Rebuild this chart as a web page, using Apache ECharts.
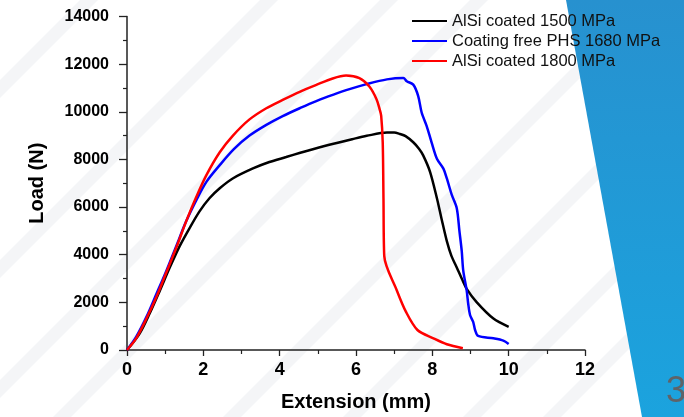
<!DOCTYPE html>
<html>
<head>
<meta charset="utf-8">
<script src="https://cdn.jsdelivr.net/npm/echarts@6/dist/echarts.min.js"></script>
<style>
html,body{margin:0;padding:0;background:#fff;}
#c{width:684px;height:417px;}
</style>
</head>
<body>
<div id="c"></div>
<script>
// ---- data ----
var seriesNames = ['AlSi coated 1500 MPa', 'Coating free PHS 1680 MPa', 'AlSi coated 1800 MPa'];
var seriesColors = ['#000000', '#0000ff', '#ff0000'];

var x1500 = [0, 0.33, 0.59, 0.86, 1.12, 1.38, 1.64, 1.90, 2.16, 2.43, 2.77, 3.30, 3.73, 4.17, 4.54, 4.87, 5.41, 5.9, 6.28, 6.81, 7.0, 7.15, 7.3, 7.5, 7.65, 7.76, 7.94, 8.12, 8.25, 8.38, 8.5, 8.64, 8.77, 8.9, 9.16, 9.6, 10.0];
var y1500 = [0, 690, 1520, 2490, 3460, 4360, 5120, 5820, 6370, 6790, 7200, 7620, 7890, 8100, 8280, 8430, 8660, 8850, 8990, 9130, 9130, 9070, 8980, 8720, 8450, 8170, 7480, 6370, 5450, 4570, 3950, 3465, 3000, 2565, 2010, 1320, 975];

var x1680 = [0, 0.24, 0.51, 0.77, 1.03, 1.29, 1.55, 1.82, 2.08, 2.43, 2.8, 3.21, 3.65, 4.08, 4.54, 4.96, 5.41, 5.83, 6.28, 6.81, 7.24, 7.33, 7.5, 7.63, 7.72, 7.85, 7.98, 8.12, 8.29, 8.38, 8.51, 8.64, 8.71, 8.77, 8.81, 8.9, 8.94, 8.99, 9.07, 9.12, 9.2, 9.6, 9.86, 10.0];
var y1680 = [0, 550, 1390, 2350, 3320, 4360, 5400, 6300, 7060, 7760, 8430, 9000, 9450, 9820, 10160, 10450, 10720, 10950, 11160, 11360, 11420, 11280, 11140, 10660, 9970, 9410, 8720, 8030, 7615, 7200, 6510, 5955, 4990, 4160, 3330, 2500, 1940, 1460, 1180, 840, 590, 490, 395, 255];

var x1800 = [0, 0.24, 0.51, 0.77, 1.03, 1.29, 1.55, 1.82, 2.08, 2.43, 2.77, 3.21, 3.65, 4.08, 4.54, 4.96, 5.39, 5.74, 6.09, 6.35, 6.54, 6.62, 6.66, 6.70, 6.72, 6.74, 7.07, 7.31, 7.61, 8.03, 8.38, 8.8];
var y1800 = [0, 485, 1320, 2220, 3250, 4290, 5400, 6440, 7340, 8300, 8990, 9680, 10150, 10500, 10850, 11130, 11400, 11520, 11410, 11060, 10520, 10100, 9830, 8720, 6370, 3950, 2500, 1600, 840, 490, 240, 75];

var xTicks = [0, 2, 4, 6, 8, 10, 12];
var yTicks = [0, 2000, 4000, 6000, 8000, 10000, 12000, 14000];

function pairs(xs, ys) { return xs.map(function (x, i) { return [x, ys[i]]; }); }

// decorative slide background
var stripeCs = [80, 260, 380, 470, 640, 760, 880, 960];
var graphics = stripeCs.map(function (c) {
  var w = 18;
  return { type: 'polygon', z: -3, silent: true,
    shape: { points: [[c, 0], [c + w, 0], [0, c + w], [0, c]] },
    style: { fill: '#f4f5f7' } };
});
graphics.push({ type: 'polygon', z: -2, silent: true,
  shape: { points: [[566, 0], [684, 0], [684, 417], [642, 417]] },
  style: { fill: { type: 'linear', x: 0, y: 0, x2: 0, y2: 1,
    colorStops: [{ offset: 0, color: '#2791cf' }, { offset: 1, color: '#1ba3de' }] } } });
graphics.push({ type: 'text', z: -1, silent: true, left: 666, top: 374,
  style: { text: '3', fill: '#5f6368', font: '36px "Liberation Sans", Arial, sans-serif' } });

var chart = echarts.init(document.getElementById('c'), null, { renderer: 'canvas' });
var font = '"Liberation Sans", Arial, sans-serif';
function mk(i, xs, ys, z) {
  return { type: 'line', symbol: 'none', smooth: 0.3,
    name: seriesNames[i], data: pairs(xs, ys), z: z,
    lineStyle: { color: seriesColors[i], width: 2.5 }, itemStyle: { color: seriesColors[i] } };
}
chart.setOption({
  backgroundColor: '#ffffff',
  animation: false,
  graphic: graphics,
  grid: { left: 127, right: 99, top: 16.5, bottom: 63.5, containLabel: false },
  legend: {
    orient: 'vertical', left: 407, top: 6,
    icon: 'rect', itemWidth: 35, itemHeight: 2, itemGap: 0,
    textStyle: { fontFamily: font, fontSize: 16.5, color: '#111', lineHeight: 20 },
    data: seriesNames
  },
  xAxis: {
    type: 'value', min: 0, max: 12, interval: 2,
    name: 'Extension (mm)', nameLocation: 'middle', nameGap: 42,
    nameTextStyle: { fontFamily: font, fontSize: 20, fontWeight: 'bold', color: '#000' },
    axisLine: { show: true, onZero: false, lineStyle: { color: '#222', width: 1.5 } },
    axisTick: { show: true, length: 6, lineStyle: { color: '#222', width: 1.3 } },
    minorTick: { show: true, splitNumber: 2, length: 4, lineStyle: { color: '#222', width: 1.2 } },
    axisLabel: { fontFamily: font, fontSize: 18, fontWeight: 'bold', color: '#000', margin: 11,
      formatter: function (v) { return xTicks.indexOf(v) >= 0 ? String(v) : ''; } },
    splitLine: { show: false }
  },
  yAxis: {
    type: 'value', min: 0, max: 14000, interval: 2000,
    name: 'Load (N)', nameLocation: 'middle', nameGap: 80,
    nameTextStyle: { fontFamily: font, fontSize: 20, fontWeight: 'bold', color: '#000' },
    axisLine: { show: true, onZero: false, lineStyle: { color: '#222', width: 1.5 } },
    axisTick: { show: true, length: 8, lineStyle: { color: '#222', width: 1.3 } },
    minorTick: { show: true, splitNumber: 2, length: 4, lineStyle: { color: '#222', width: 1.2 } },
    axisLabel: { fontFamily: font, fontSize: 16, fontWeight: 'bold', color: '#000', margin: 18,
      formatter: function (v) { return yTicks.indexOf(v) >= 0 ? String(v) : ''; } },
    splitLine: { show: false }
  },
  series: [
    mk(0, x1500, y1500, 3),
    mk(1, x1680, y1680, 4),
    mk(2, x1800, y1800, 5)
  ]
});
</script>
</body>
</html>
